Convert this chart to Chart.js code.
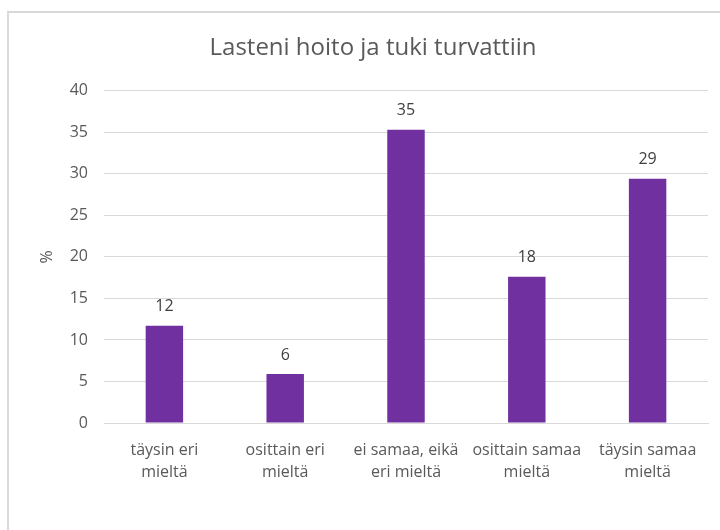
<!DOCTYPE html>
<html>
<head>
<meta charset="utf-8">
<script src="https://cdn.jsdelivr.net/npm/chart.js@4/dist/chart.umd.min.js"></script>
<style>
  html, body { margin: 0; padding: 0; background: #fff; }
  #frame {
    position: absolute; left: 7px; top: 11px; width: 740px; height: 560px;
    border: 2px solid #d9d9d9; box-sizing: border-box;
  }
  #wrap { position: absolute; left: 0; top: 0; width: 720px; height: 530px; }
</style>
</head>
<body>
<div id="frame"></div>
<div id="wrap"><canvas id="c" width="720" height="530"></canvas></div>
<script>
// Luokat ja arvot (luettu kuvasta)
const categories = [
    ["täysin eri", "mieltä"],
    ["osittain eri", "mieltä"],
    ["ei samaa, eikä", "eri mieltä"],
    ["osittain samaa", "mieltä"],
    ["täysin samaa", "mieltä"],
];
const values = [11.7, 5.9, 35.3, 17.6, 29.4];
const yTicks = [0, 5, 10, 15, 20, 25, 30, 35, 40];

const PURPLE = "#7030a0";
const TEXT = "#595959";
const GRID = "#d9d9d9";
const FONT = "'Open Sans', sans-serif";

// Arvot pylväiden yläpuolelle
const barLabels = {
    id: "barLabels",
    afterDatasetsDraw(chart) {
        const ctx = chart.ctx;
        const meta = chart.getDatasetMeta(0);
        ctx.save();
        ctx.font = "16px " + FONT;
        ctx.fillStyle = "#404040";
        ctx.textAlign = "center";
        ctx.textBaseline = "middle";
        meta.data.forEach((bar, i) => {
            ctx.fillText(String(Math.round(values[i])), bar.x, bar.y - 19);
        });
        ctx.restore();
    },
};

new Chart(document.getElementById("c"), {
    type: "bar",
    data: {
        labels: categories,
        datasets: [{
            data: values,
            backgroundColor: PURPLE,
            borderWidth: 0,
            barPercentage: 0.31,
            categoryPercentage: 1,
        }],
    },
    options: {
        responsive: false,
        animation: false,
        layout: { padding: { top: 15, right: 12, bottom: 47, left: 38 } },
        scales: {
            x: {
                grid: { display: false },
                border: { color: GRID, width: 1 },
                ticks: {
                    color: TEXT,
                    font: { family: FONT, size: 16, lineHeight: 1.35 },
                    padding: 9,
                    maxRotation: 0,
                    autoSkip: false,
                },
                afterFit: (s) => { s.height = 60; },
            },
            y: {
                min: 0,
                max: 40,
                afterBuildTicks: (s) => { s.ticks = yTicks.map((v) => ({ value: v })); },
                grid: { color: GRID, drawTicks: false },
                border: { display: false },
                ticks: {
                    color: TEXT,
                    font: { family: FONT, size: 16 },
                    padding: 16,
                },
                title: {
                    display: true,
                    text: "%",
                    color: TEXT,
                    font: { family: FONT, size: 16 },
                    padding: 0,
                },
                afterFit: (s) => { s.width = 66; },
            },
        },
        plugins: {
            legend: { display: false },
            tooltip: { enabled: false },
            title: {
                display: true,
                text: "Lasteni hoito ja tuki turvattiin",
                color: TEXT,
                font: { family: FONT, size: 24, weight: "normal" },
                padding: { top: 19, bottom: 28 },
            },
        },
    },
    plugins: [barLabels],
});
</script>
</body>
</html>
